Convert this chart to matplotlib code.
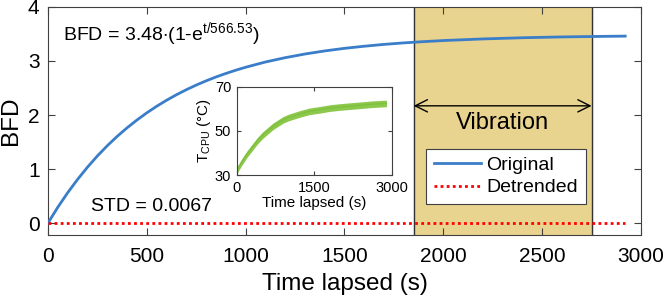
import numpy as np
import matplotlib
matplotlib.use('Agg')
import matplotlib.pyplot as plt

plt.rcParams['font.family'] = ['Liberation Sans', 'DejaVu Sans']
plt.rcParams['mathtext.fontset'] = 'custom'
plt.rcParams['mathtext.rm'] = 'Liberation Sans'
plt.rcParams['mathtext.it'] = 'Liberation Sans:italic'

# main data: BFD over time
t_bfd = [0, 50, 100, 150, 200, 250, 300, 350, 400, 450, 500, 550, 600, 650,
         700, 750, 800, 850, 900, 950, 1000, 1100, 1200, 1300, 1400, 1500,
         1600, 1700, 1800, 1900, 2000, 2200, 2400, 2600, 2800, 2920]
bfd_original = [0, 0.294, 0.563, 0.809, 1.035, 1.242, 1.431, 1.604, 1.762,
                1.907, 2.040, 2.162, 2.273, 2.375, 2.468, 2.554, 2.632, 2.704,
                2.769, 2.829, 2.884, 2.981, 3.061, 3.129, 3.186, 3.234, 3.273,
                3.307, 3.335, 3.358, 3.378, 3.408, 3.430, 3.445, 3.455, 3.460]
t_detr = [0, 2920]
bfd_detrended = [0, 0]

vib_start, vib_end = 1850, 2750

# inset data: CPU temperature band
t_cpu = [0, 100, 200, 300, 400, 500, 600, 700, 800, 900, 1000, 1200, 1400,
         1600, 1800, 2000, 2200, 2400, 2600, 2800, 2900]
temp_low = [30.5, 34.5, 38.0, 41.0, 44.0, 46.5, 48.5, 50.5, 52.0, 53.5, 54.5,
            56.0, 57.3, 58.0, 58.8, 59.3, 59.7, 60.1, 60.5, 60.8, 60.9]
temp_high = [33.5, 37.5, 41.0, 44.0, 47.0, 49.5, 51.5, 53.5, 55.0, 56.5, 57.5,
             59.0, 60.3, 61.0, 61.8, 62.3, 62.7, 63.1, 63.5, 63.8, 63.9]

fig = plt.figure(figsize=(6.66, 3.02), dpi=100)
ax = fig.add_axes([0.072, 0.222, 0.8905, 0.755])

ax.axvspan(vib_start, vib_end, color='#E8D48E', zorder=0)
ax.axvline(vib_start, color='#333333', lw=1.0, zorder=1)
ax.axvline(vib_end, color='#333333', lw=1.0, zorder=1)

ax.plot(t_bfd, bfd_original, color='#3A7DC9', lw=2.0, label='Original', zorder=3)
ax.plot(t_detr, bfd_detrended, color='#FF0000', lw=2.0, ls=(0, (1, 1.2)),
        label='Detrended', zorder=3)

ax.set_xlim(0, 3000)
ax.set_ylim(-0.22, 4)
ax.set_xticks(range(0, 3001, 500))
ax.set_yticks(range(0, 5))
ax.tick_params(direction='in', top=True, right=True, labelsize=15,
               length=5, color='#404040', pad=9)
ax.tick_params(axis='y', pad=6)
for s in ax.spines.values():
    s.set_color('#404040')
    s.set_linewidth(0.8)
ax.set_xlabel('Time lapsed (s)', fontsize=17.5, labelpad=5)
ax.set_ylabel('BFD', fontsize=17.5, labelpad=4)

ax.text(76, 3.5, r'BFD = 3.48$\cdot$(1-e$^{\mathrm{t/566.53}}$)', fontsize=14,
        va='center', ha='left')
ax.text(220, 0.3, 'STD = 0.0067', fontsize=14, va='center', ha='left')

ax.annotate('', xy=(vib_start, 2.17), xytext=(vib_end, 2.17),
            arrowprops=dict(arrowstyle='<->', color='black', lw=1.0,
                            mutation_scale=22, shrinkA=0, shrinkB=0))
ax.text((vib_start + vib_end) / 2, 1.85, 'Vibration', fontsize=17,
        ha='center', va='center')

leg = ax.legend(loc='lower left', bbox_to_anchor=(0.638, 0.135), fontsize=14,
                frameon=True, fancybox=False, framealpha=1, edgecolor='#404040',
                handlelength=2.4, handletextpad=0.3, borderpad=0.4,
                labelspacing=0.25, borderaxespad=0)
leg.get_frame().set_linewidth(0.8)

# inset
axi = fig.add_axes([0.3555, 0.4205, 0.2325, 0.2925])
axi.fill_between(t_cpu, temp_low, temp_high, color='#8CC84B', lw=0)
axi.plot(t_cpu, [(a + b) / 2 for a, b in zip(temp_low, temp_high)],
         color='#7BBF3A', lw=0.8)
axi.set_xlim(0, 3000)
axi.set_ylim(30, 70)
axi.set_xticks([0, 1500, 3000])
axi.set_yticks([30, 50, 70])
axi.tick_params(direction='in', top=True, right=True, labelsize=10.5,
                length=3, color='#404040', pad=4)
for s in axi.spines.values():
    s.set_color('#404040')
    s.set_linewidth(0.8)
axi.set_xlabel('Time lapsed (s)', fontsize=11, labelpad=1)
axi.set_ylabel(r'T$_{\mathrm{CPU}}$ (°C)', fontsize=11, labelpad=1)

fig.savefig('out.png', dpi=100)
